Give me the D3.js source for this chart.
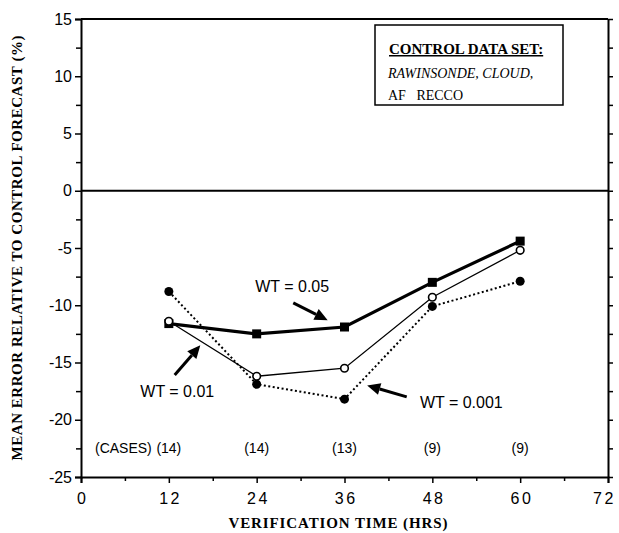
<!DOCTYPE html>
<html>
<head>
<meta charset="utf-8">
<script src="https://cdn.jsdelivr.net/npm/d3@7"></script>
<style>
  body { margin: 0; background: #fff; }
  text { fill: #000; }
</style>
</head>
<body>
<div id="chart"></div>
<script>
/* DATA */
const hours = [12, 24, 36, 48, 60];
const wt005 = [-11.6, -12.5, -11.9, -8.0, -4.4];
const wt001 = [-11.4, -16.2, -15.5, -9.3, -5.2];
const wt0001 = [-8.8, -16.9, -18.2, -10.1, -7.9];
const cases = ["(14)", "(14)", "(13)", "(9)", "(9)"];
const xTicks = [0, 12, 24, 36, 48, 60, 72];
const yTicks = [-25, -20, -15, -10, -5, 0, 5, 10, 15];

const W = 619, H = 533;
const sans = "'Liberation Sans', Arial, sans-serif";
const serif = "'Liberation Serif', 'Times New Roman', serif";

const svg = d3.select("#chart").append("svg")
    .attr("width", W)
    .attr("height", H);

const x = d3.scaleLinear().domain([0, 72]).range([81, 608]);
const y = d3.scaleLinear().domain([-25, 15]).range([477, 19]);

// frame: top line and zero line
svg.append("line")
    .attr("x1", x(0)).attr("x2", x(72))
    .attr("y1", y(15)).attr("y2", y(15))
    .attr("stroke", "#000").attr("stroke-width", 1.8);
svg.append("line")
    .attr("x1", x(0)).attr("x2", x(72))
    .attr("y1", y(0)).attr("y2", y(0))
    .attr("stroke", "#000").attr("stroke-width", 1.8);

// left axis
const yAxis = svg.append("g")
    .attr("transform", `translate(${x(0)},0)`)
    .call(d3.axisLeft(y).tickValues(yTicks).tickSize(6).tickPadding(3).tickFormat(d => String(d)));
yAxis.selectAll("text").attr("font-family", sans).attr("font-size", 16);
yAxis.select(".domain").attr("stroke-width", 2);
yAxis.selectAll(".tick line").attr("stroke-width", 1.5);
svg.append("g")
    .attr("transform", `translate(${x(0)},0)`)
    .call(d3.axisLeft(y).tickValues(d3.range(-22.5, 15, 5)).tickSize(5).tickFormat(""))
    .call(g => g.select(".domain").remove())
    .selectAll("line").attr("stroke-width", 1.5);

// right axis
svg.append("g")
    .attr("transform", `translate(${x(72)},0)`)
    .call(d3.axisRight(y).tickValues(d3.range(-25, 15.1, 2.5)).tickSize(5).tickSizeOuter(0).tickFormat(""))
    .call(g => g.select(".domain").attr("stroke-width", 2))
    .selectAll("line").attr("stroke-width", 1.5);

// bottom axis
const xAxis = svg.append("g")
    .attr("transform", `translate(0,${y(-25)})`)
    .call(d3.axisBottom(x).tickValues(xTicks).tickSize(6).tickPadding(10).tickFormat(d => String(d)));
xAxis.selectAll("text")
    .attr("font-family", sans).attr("font-size", 16)
    .attr("letter-spacing", 2.5).attr("dx", d => d === 72 ? -4 : 1.2);
xAxis.select(".domain").attr("stroke-width", 2);
xAxis.selectAll(".tick line").attr("stroke-width", 1.5);
svg.append("g")
    .attr("transform", `translate(0,${y(-25)})`)
    .call(d3.axisBottom(x).tickValues(d3.range(6, 72, 12)).tickSize(4).tickFormat(""))
    .call(g => g.select(".domain").remove())
    .selectAll("line").attr("stroke-width", 1.5);

// axis titles
svg.append("text")
    .attr("transform", `translate(22,${(y(15) + y(-25)) / 2}) rotate(-90)`)
    .attr("text-anchor", "middle")
    .attr("font-family", serif).attr("font-weight", "bold").attr("font-size", 15)
    .attr("textLength", 425).attr("lengthAdjust", "spacing")
    .text("MEAN ERROR RELATIVE TO CONTROL FORECAST (%)");
svg.append("text")
    .attr("x", 338).attr("y", 528)
    .attr("text-anchor", "middle")
    .attr("font-family", serif).attr("font-weight", "bold").attr("font-size", 15)
    .attr("textLength", 219).attr("lengthAdjust", "spacing")
    .text("VERIFICATION TIME (HRS)");

// series lines
const line = d3.line().x((d, i) => x(hours[i])).y(d => y(d));
svg.append("path").datum(wt0001)
    .attr("d", line).attr("fill", "none")
    .attr("stroke", "#000").attr("stroke-width", 2).attr("stroke-dasharray", "2,2.5");
svg.append("path").datum(wt001)
    .attr("d", line).attr("fill", "none")
    .attr("stroke", "#000").attr("stroke-width", 1.3);
svg.append("path").datum(wt005)
    .attr("d", line).attr("fill", "none")
    .attr("stroke", "#000").attr("stroke-width", 3.2);

// markers
svg.selectAll(".dot0001").data(wt0001).enter().append("circle")
    .attr("cx", (d, i) => x(hours[i])).attr("cy", d => y(d))
    .attr("r", 4.5).attr("fill", "#000");
svg.selectAll(".sq005").data(wt005).enter().append("rect")
    .attr("x", (d, i) => x(hours[i]) - 4.5).attr("y", d => y(d) - 4.5)
    .attr("width", 9).attr("height", 9).attr("fill", "#000");
svg.selectAll(".ring001").data(wt001).enter().append("circle")
    .attr("cx", (d, i) => x(hours[i])).attr("cy", d => y(d))
    .attr("r", 3.8).attr("fill", "#fff").attr("stroke", "#000").attr("stroke-width", 1.6);

// annotations with arrows (data coordinates)
const notes = [
  { text: "WT = 0.05", tx: 23.8, ty: -8.85, from: [29.0, -9.8], to: [33.7, -11.3] },
  { text: "WT = 0.01", tx: 8.1, ty: -18.0, from: [12.8, -16.1], to: [16.3, -13.5] },
  { text: "WT = 0.001", tx: 46.3, ty: -19.0, from: [44.5, -18.0], to: [39.1, -17.0] }
];
notes.forEach(n => {
  svg.append("text")
      .attr("x", x(n.tx)).attr("y", y(n.ty))
      .attr("font-family", sans).attr("font-size", 16)
      .text(n.text);
  const x1 = x(n.from[0]), y1 = y(n.from[1]), x2 = x(n.to[0]), y2 = y(n.to[1]);
  const ang = Math.atan2(y2 - y1, x2 - x1);
  const len = 13, half = 6;
  const bx = x2 - len * Math.cos(ang), by = y2 - len * Math.sin(ang);
  svg.append("line")
      .attr("x1", x1).attr("y1", y1).attr("x2", bx).attr("y2", by)
      .attr("stroke", "#000").attr("stroke-width", 3);
  svg.append("path")
      .attr("d", `M${x2},${y2}L${bx + half * Math.sin(ang)},${by - half * Math.cos(ang)}L${bx - half * Math.sin(ang)},${by + half * Math.cos(ang)}Z`)
      .attr("fill", "#000");
});

// number of cases
svg.append("text")
    .attr("x", 95).attr("y", y(-22.9))
    .attr("font-family", sans).attr("font-size", 14)
    .text("(CASES)");
svg.selectAll(".cases").data(cases).enter().append("text")
    .attr("x", (d, i) => x(hours[i])).attr("y", y(-22.9))
    .attr("text-anchor", "middle")
    .attr("font-family", sans).attr("font-size", 14)
    .text(d => d);

// legend box
const box = svg.append("g").attr("transform", "translate(375,25)");
box.append("rect")
    .attr("width", 188).attr("height", 80)
    .attr("fill", "#fff").attr("stroke", "#000").attr("stroke-width", 1.5);
box.append("text")
    .attr("x", 14).attr("y", 29)
    .attr("font-family", serif).attr("font-weight", "bold").attr("font-size", 15)
    .attr("text-decoration", "underline")
    .text("CONTROL DATA SET:");
box.append("text")
    .attr("x", 13).attr("y", 53)
    .attr("font-family", serif).attr("font-style", "italic").attr("font-size", 14)
    .text("RAWINSONDE, CLOUD,");
box.append("text")
    .attr("x", 13).attr("y", 75)
    .attr("font-family", serif).attr("font-size", 14)
    .attr("xml:space", "preserve")
    .text("AF   RECCO");
</script>
</body>
</html>
